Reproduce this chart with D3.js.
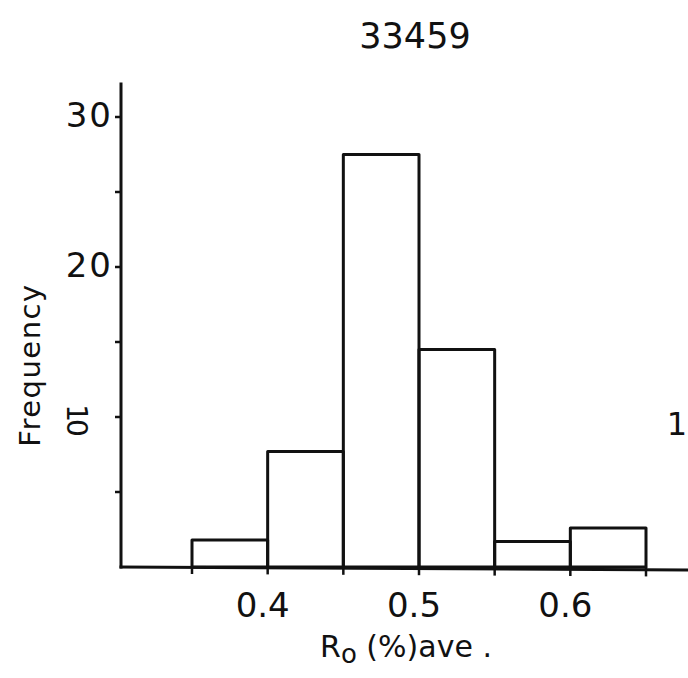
<!DOCTYPE html>
<html>
<head>
<meta charset="utf-8">
<script src="https://cdn.jsdelivr.net/npm/d3@7"></script>
<style>
  html, body { margin: 0; padding: 0; background: #fff; }
  svg { display: block; }
  text { font-family: "DejaVu Sans", sans-serif; fill: #111; }
</style>
</head>
<body>
<svg id="chart" width="688" height="678"></svg>
<script>
// ---- data ----
const title = "33459";
const binStarts = [0.35, 0.40, 0.45, 0.50, 0.55, 0.60];
const binWidth = 0.05;
const frequency = [1.8, 7.7, 27.5, 14.5, 1.7, 2.6];
const xTickValues = [0.35, 0.40, 0.45, 0.50, 0.55, 0.60, 0.65];
const xTickLabels = [{v: 0.4, t: "0.4"}, {v: 0.5, t: "0.5"}, {v: 0.6, t: "0.6"}];
const yTickValues = [5, 10, 15, 20, 25, 30];
const yTickLabels = [{v: 20, t: "20"}, {v: 30, t: "30"}];
const yRotatedLabel = {v: 10, t: "10"};
const yLabel = "Frequency";

// ---- layout ----
const svg = d3.select("#chart");
const x = d3.scaleLinear().domain([0.35, 0.65]).range([192, 646]);
const y = d3.scaleLinear().domain([0, 30]).range([567, 117]);
const axisX = 121;
const axisTop = y(32.3);

// bars
svg.append("g").selectAll("rect").data(binStarts).join("rect")
  .attr("x", d => x(d))
  .attr("y", (d, i) => y(frequency[i]))
  .attr("width", d => x(d + binWidth) - x(d))
  .attr("height", (d, i) => y(0) - y(frequency[i]))
  .attr("fill", "none")
  .attr("stroke", "#111")
  .attr("stroke-width", 3)
  .attr("stroke-linejoin", "round");

// y axis line
svg.append("line")
  .attr("x1", axisX).attr("x2", axisX)
  .attr("y1", axisTop).attr("y2", y(0) + 1.5)
  .attr("stroke", "#111").attr("stroke-width", 3);

// x axis line
svg.append("line")
  .attr("x1", axisX - 1.5).attr("x2", 688)
  .attr("y1", y(0)).attr("y2", y(0) + 3)
  .attr("stroke", "#111").attr("stroke-width", 3);

// y ticks
svg.append("g").selectAll("line").data(yTickValues).join("line")
  .attr("x1", axisX - 6).attr("x2", axisX)
  .attr("y1", d => y(d)).attr("y2", d => y(d))
  .attr("stroke", "#111").attr("stroke-width", 2.5);

// x ticks
svg.append("g").selectAll("line").data(xTickValues).join("line")
  .attr("x1", d => x(d)).attr("x2", d => x(d))
  .attr("y1", d => y(0)).attr("y2", d => y(0) + 7 + (d - 0.35) * 8)
  .attr("stroke", "#111").attr("stroke-width", 2.5);

// y tick labels
svg.append("g").selectAll("text").data(yTickLabels).join("text")
  .attr("x", axisX - 8)
  .attr("y", d => y(d.v) + 10)
  .attr("text-anchor", "end")
  .attr("font-size", 34)
  .attr("letter-spacing", 2)
  .text(d => d.t);

svg.append("text")
  .attr("transform", `translate(67, ${y(yRotatedLabel.v) + 2}) rotate(90)`)
  .attr("text-anchor", "middle")
  .attr("font-size", 28)
  .attr("letter-spacing", -3)
  .text(yRotatedLabel.t);

// x tick labels
svg.append("g").selectAll("text").data(xTickLabels).join("text")
  .attr("x", d => x(d.v) - 5)
  .attr("y", 617)
  .attr("text-anchor", "middle")
  .attr("font-size", 34)
  .text(d => d.t);

// x axis title
const xt = svg.append("text")
  .attr("x", 406).attr("y", 657)
  .attr("text-anchor", "middle")
  .attr("font-size", 30);
xt.append("tspan").text("R");
xt.append("tspan").attr("font-size", 26).attr("dy", 6).text("o");
xt.append("tspan").attr("dy", -6).text(" (%)ave .");

// y axis title
svg.append("text")
  .attr("transform", "translate(40, 365) rotate(-90)")
  .attr("text-anchor", "middle")
  .attr("font-size", 29)
  .attr("letter-spacing", 1.5)
  .text(yLabel);

// chart title
svg.append("text")
  .attr("x", 415).attr("y", 48)
  .attr("text-anchor", "middle")
  .attr("font-size", 35)
  .text(title);

// stray panel mark at right edge
svg.append("text")
  .attr("x", 687).attr("y", 435)
  .attr("text-anchor", "end")
  .attr("font-family", "Liberation Sans, sans-serif")
  .attr("font-size", 32)
  .text("1");
</script>
</body>
</html>
